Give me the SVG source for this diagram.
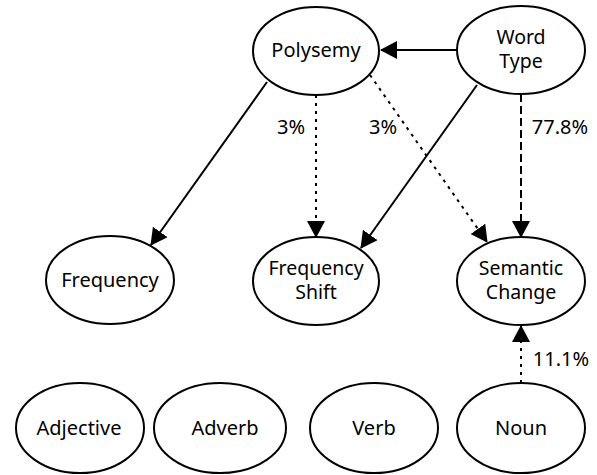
<svg xmlns="http://www.w3.org/2000/svg" width="597" height="475" viewBox="0 0 597 475">
<style>
.n ellipse{fill:#fff;stroke:#000;stroke-width:2}
text{font-family:"Noto Sans","Open Sans",sans-serif;font-size:20px;fill:#000}
.n text{text-anchor:middle}
.n text.m{font-size:19.5px}
.e path{fill:none;stroke:#000;stroke-width:2}
.dot{stroke-dasharray:3 5}
.dash{stroke-dasharray:8 4}
</style>
<defs>
<marker id="a" markerUnits="userSpaceOnUse" markerWidth="17" markerHeight="18" refX="16" refY="9" orient="auto">
<path d="M0,0 L17,9 L0,18 z" fill="#000"/>
</marker>
</defs>
<rect width="597" height="475" fill="#fff"/>
<g id="edges" class="e">
<path d="M457,50 L381,50" marker-end="url(#a)"/>
<path d="M267,82 L151,245" marker-end="url(#a)"/>
<path d="M477,85 L361,248" marker-end="url(#a)"/>
<path class="dot" d="M316,95 L316,237" marker-end="url(#a)"/>
<path class="dot" d="M370,75 L487,242" marker-end="url(#a)"/>
<path class="dash" d="M521,94 L521,237" marker-end="url(#a)"/>
<path class="dot" d="M521,383 L521,326" marker-end="url(#a)"/>
</g>
<g id="labels">
<text x="291" y="134" text-anchor="middle">3%</text>
<text x="383" y="134" text-anchor="middle">3%</text>
<text x="560" y="134" text-anchor="middle">77.8%</text>
<text x="561" y="366" text-anchor="middle">11.1%</text>
</g>
<g id="polysemy" class="n"><ellipse cx="316" cy="51" rx="63" ry="44"/><text x="316" y="57">Polysemy</text></g>
<g id="wordtype" class="n"><ellipse cx="521" cy="50" rx="64" ry="44"/><text class="m" x="521" y="44">Word</text><text class="m" x="521" y="68">Type</text></g>
<g id="frequency" class="n"><ellipse cx="110" cy="280" rx="64" ry="44"/><text x="110" y="287">Frequency</text></g>
<g id="freqshift" class="n"><ellipse cx="316" cy="281" rx="63" ry="44"/><text class="m" x="316" y="275">Frequency</text><text class="m" x="316" y="299">Shift</text></g>
<g id="semchange" class="n"><ellipse cx="521" cy="281" rx="64" ry="44"/><text class="m" x="521" y="275">Semantic</text><text class="m" x="521" y="299">Change</text></g>
<g id="adjective" class="n"><ellipse cx="80" cy="428" rx="64" ry="45"/><text x="79" y="435">Adjective</text></g>
<g id="adverb" class="n"><ellipse cx="220" cy="428" rx="66" ry="45"/><text x="225" y="435">Adverb</text></g>
<g id="verb" class="n"><ellipse cx="374" cy="428" rx="64" ry="45"/><text x="374" y="435">Verb</text></g>
<g id="noun" class="n"><ellipse cx="521" cy="428" rx="64" ry="45"/><text x="521" y="435">Noun</text></g>
</svg>
